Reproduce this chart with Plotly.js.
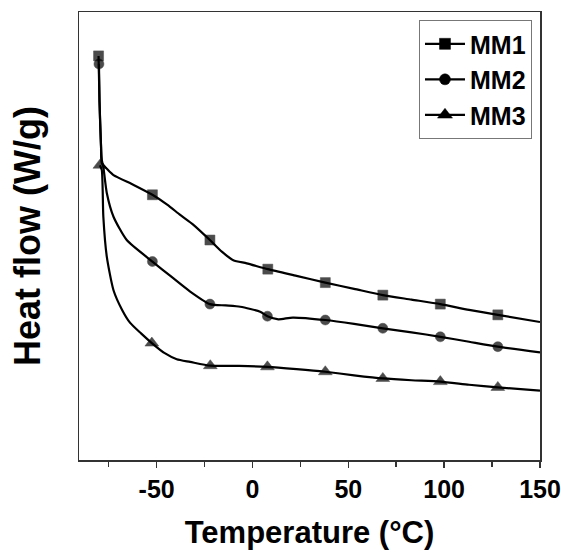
<!DOCTYPE html>
<html>
<head>
<meta charset="utf-8">
<script src="https://cdn.plot.ly/plotly-3.0.1.min.js"></script>
<style>html,body{margin:0;padding:0;background:#fff;}#chart{width:561px;height:554px;}</style>
</head>
<body>
<div id="chart"></div>
<script>
// Temperature (°C) and heat flow (arbitrary units)
const mm1X = [-80.3, -79.8, -79.0, -78.6, -75.5, -72.5, -62, -52.2, -44.5, -37.7, -30.8, -22.2, -16, -10, -3, 8, 23, 38, 53, 68, 83, 98, 113, 128, 150];
const mm1Y = [90.2, 80, 70, 66.3, 64.8, 63.6, 61.4, 59.2, 57, 54.7, 52.5, 49.1, 46.5, 44.6, 43.9, 42.6, 41.1, 39.6, 38.2, 36.8, 35.8, 34.8, 33.5, 32.4, 30.8];
const mm1Marks = [-80.3, -52.2, -22.2, 8, 38, 68, 98, 128];

const mm2X = [-80.1, -79.8, -79.2, -78.6, -77.8, -76, -72.5, -65.6, -52.2, -42, -32.5, -22.2, -14, -6.4, 4, 7.8, 13.5, 21, 38, 53, 68, 83, 98, 113, 128, 150];
const mm2Y = [88.4, 80, 72, 67, 65.4, 59.6, 54.3, 49.1, 44.3, 40.8, 37.6, 34.8, 34.5, 34.2, 33.1, 32.1, 31.4, 31.8, 31.25, 30.4, 29.4, 28.5, 27.5, 26.4, 25.3, 24.0];
const mm2Marks = [-80.1, -52.2, -22.2, 7.8, 38, 68, 98, 128];

const mm3X = [-79.6, -78.6, -77.8, -76, -72.5, -68, -63.8, -58, -52.5, -46, -39.5, -32.5, -22, -7, 7.8, 23, 38, 53, 68, 83, 98, 113, 128, 150];
const mm3Y = [65.8, 64.7, 54.3, 45.4, 37.9, 33.5, 30.6, 28.2, 26.1, 23.9, 22.5, 21.9, 21.05, 21.0, 20.8, 20.3, 19.7, 18.9, 18.2, 17.8, 17.5, 16.8, 16.2, 15.5];
const mm3Marks = [-79.6, -52.5, -22, 7.8, 38, 68, 98, 128];

const seriesNames = ['MM1', 'MM2', 'MM3'];
const symbols = ['square', 'circle', 'triangle-up'];
const xTickVals = [-50, 0, 50, 100, 150];
const xTickText = ['-50', '0', '50', '100', '150'];

const FONT = 'Liberation Sans, Arial, sans-serif';
const markSizes = [10, 10, 12];
const series = [[mm1X, mm1Y, mm1Marks], [mm2X, mm2Y, mm2Marks], [mm3X, mm3Y, mm3Marks]];
const traces = [];
series.forEach(function (s, i) {
  const sizes = s[0].map(function (x) { return s[2].indexOf(x) >= 0 ? markSizes[i] : 0; });
  traces.push({
    x: s[0], y: s[1], type: 'scatter', mode: 'lines+markers', showlegend: false,
    line: {color: '#000', width: 2.2, shape: 'spline', smoothing: 0.6},
    marker: {symbol: symbols[i], size: sizes, color: '#000', line: {width: 0.5, color: '#000'}},
    hoverinfo: 'skip'
  });
});
series.forEach(function (s, i) {
  traces.push({
    x: [null], y: [null], type: 'scatter', mode: 'lines+markers', name: seriesNames[i],
    line: {color: '#000', width: 2.2}, marker: {symbol: symbols[i], size: markSizes[i] + 1, color: '#000', line: {width: 0.5, color: '#000'}}
  });
});

const layout = {
  width: 561, height: 554,
  margin: {l: 79, r: 21, t: 12, b: 94},
  paper_bgcolor: '#fff', plot_bgcolor: '#fff',
  showlegend: true,
  legend: {
    x: 0.7375, y: 0.982, xanchor: 'left', yanchor: 'top',
    bordercolor: '#777', borderwidth: 1, bgcolor: '#fff',
    font: {family: FONT, size: 25, color: '#000', weight: 'bold'},
    tracegroupgap: 0, itemwidth: 40
  },
  xaxis: {
    range: [-90.5, 150], tickvals: xTickVals, ticktext: xTickText,
    ticks: 'outside', ticklen: 6, tickwidth: 1.5, tickcolor: '#333',
    ticklabeloverflow: 'allow',
    minor: {dtick: 50, tick0: -75, ticks: 'outside', ticklen: 5, tickwidth: 1.5, tickcolor: '#333'},
    showgrid: false, zeroline: false, showline: true, linecolor: '#333', linewidth: 1.5, mirror: true,
    tickfont: {family: FONT, size: 25, color: '#000', weight: 'bold'},
    title: {text: 'Temperature (°C)', standoff: 20, font: {family: FONT, size: 31, color: '#000', weight: 'bold'}}
  },
  yaxis: {
    range: [0, 100], showticklabels: false, ticks: '',
    showgrid: false, zeroline: false, showline: true, linecolor: '#333', linewidth: 1.5, mirror: true,
    title: {text: 'Heat flow (W/g)', standoff: 26, font: {family: FONT, size: 36, color: '#000', weight: 'bold'}}
  }
};

Plotly.newPlot('chart', traces, layout, {displayModeBar: false, staticPlot: true});
</script>
</body>
</html>
